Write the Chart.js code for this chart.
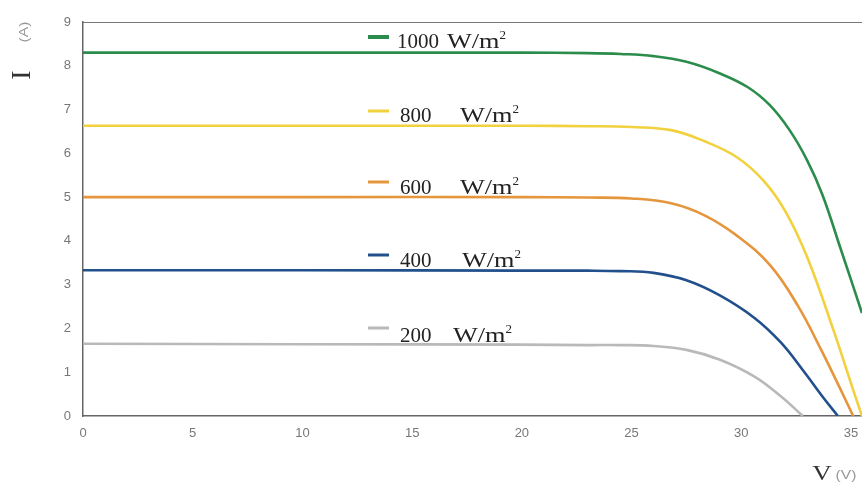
<!DOCTYPE html>
<html>
<head>
<meta charset="utf-8">
<script src="https://cdn.jsdelivr.net/npm/chart.js@4.4.0/dist/chart.umd.min.js"></script>
<style>
html,body{margin:0;padding:0;background:#fff;overflow:hidden;}
#wrap{width:862px;height:484px;position:relative;}
</style>
</head>
<body>
<div id="wrap"><canvas id="c" width="862" height="484"></canvas></div>
<script>
// ---- data ----
const seriesNames = ['1000', '800', '600', '400', '200'];
const v1000 = [0, 10, 20, 23, 24.5, 26.0, 27.5, 29.0, 30.3, 31.3, 32.2, 33.0, 33.7, 34.5, 35.5, 37.0];
const i1000 = [8.3, 8.3, 8.3, 8.29, 8.27, 8.22, 8.09, 7.83, 7.51, 7.1, 6.53, 5.84, 5.05, 3.86, 2.35, 0];
const v800 = [0, 10, 20, 23, 25.0, 26.8, 28.3, 29.8, 31.0, 32.0, 33.0, 34.2, 35.1, 35.5];
const i800 = [6.63, 6.63, 6.63, 6.62, 6.6, 6.53, 6.28, 5.91, 5.38, 4.68, 3.63, 1.96, 0.59, 0];
const v600 = [0, 10, 20, 23, 25.0, 26.8, 28.3, 29.8, 31.3, 32.6, 33.6, 34.5, 35.1];
const i600 = [5.0, 5.0, 5.0, 4.99, 4.97, 4.86, 4.59, 4.12, 3.45, 2.5, 1.55, 0.63, 0];
const v400 = [0, 10, 20, 23, 24.5, 26.0, 27.5, 29.0, 30.6, 31.8, 32.8, 33.75, 34.4];
const i400 = [3.33, 3.33, 3.32, 3.32, 3.31, 3.27, 3.1, 2.76, 2.24, 1.68, 1.05, 0.41, 0];
const v200 = [0, 10, 20, 23, 24.5, 26.0, 27.5, 29.0, 30.6, 31.8, 32.8];
const i200 = [1.65, 1.64, 1.63, 1.62, 1.62, 1.6, 1.51, 1.29, 0.9, 0.45, 0];
const xTicks = [0, 5, 10, 15, 20, 25, 30, 35];
const yTicks = [0, 1, 2, 3, 4, 5, 6, 7, 8, 9];

const colors = ['#2b8c4c', '#f2d13e', '#e5963c', '#21508c', '#b9b9b9'];
const vs = [v1000, v800, v600, v400, v200];
const is = [i1000, i800, i600, i400, i200];

const datasets = seriesNames.map((n, k) => ({
  label: n + ' W/m2',
  data: vs[k].map((v, j) => ({x: v, y: is[k][j]})),
  borderColor: colors[k],
  borderWidth: 2.6,
  pointRadius: 0,
  fill: false,
  tension: 0.4,
  xAxisID: 'x', yAxisID: 'y'
}));

// annotation layout (pixels)
const annLayout = [
  {dashY: 37, base: 48, numX: 397, wX: 447, dashW: 4},
  {dashY: 111, base: 122, numX: 400, wX: 460, dashW: 3},
  {dashY: 182, base: 194, numX: 400, wX: 460, dashW: 3},
  {dashY: 255, base: 267, numX: 400, wX: 462, dashW: 3},
  {dashY: 328, base: 342, numX: 400, wX: 453, dashW: 3}
];

function stretchText(ctx, txt, x, y, sx) {
  ctx.save();
  ctx.translate(x, y);
  ctx.scale(sx, 1);
  ctx.fillText(txt, 0, 0);
  ctx.restore();
  return ctx.measureText(txt).width * sx;
}

const annot = {
  id: 'annot',
  afterDraw(chart) {
    const ctx = chart.ctx;
    ctx.save();
    annLayout.forEach((a, k) => {
      ctx.strokeStyle = colors[k];
      ctx.lineWidth = a.dashW;
      ctx.beginPath();
      ctx.moveTo(368, a.dashY);
      ctx.lineTo(389, a.dashY);
      ctx.stroke();
      ctx.fillStyle = '#222';
      ctx.textBaseline = 'alphabetic';
      ctx.textAlign = 'left';
      ctx.font = '21px "Liberation Serif"';
      ctx.fillText(seriesNames[k], a.numX, a.base);
      const w = stretchText(ctx, 'W/m', a.wX, a.base, 1.25);
      ctx.font = '13px "Liberation Serif"';
      ctx.fillText('2', a.wX + w, a.base - 9);
    });
    // y axis title (rotated)
    ctx.save();
    ctx.translate(23, 75);
    ctx.rotate(-Math.PI / 2);
    ctx.fillStyle = '#333';
    ctx.textAlign = 'center';
    ctx.textBaseline = 'middle';
    ctx.font = '28px "Liberation Serif"';
    ctx.fillText('I', 0, 0);
    ctx.restore();
    ctx.save();
    ctx.translate(25, 32);
    ctx.rotate(-Math.PI / 2);
    ctx.scale(1.3, 1);
    ctx.fillStyle = '#999';
    ctx.textAlign = 'center';
    ctx.textBaseline = 'middle';
    ctx.font = '12px "Liberation Sans"';
    ctx.fillText('(A)', 0, 0);
    ctx.restore();
    // x axis title
    ctx.fillStyle = '#333';
    ctx.textAlign = 'center';
    ctx.textBaseline = 'alphabetic';
    ctx.font = '20px "Liberation Serif"';
    ctx.save(); ctx.translate(822, 480); ctx.scale(1.35, 1); ctx.fillText('V', 0, 0); ctx.restore();
    ctx.fillStyle = '#999';
    ctx.font = '12px "Liberation Sans"';
    ctx.save(); ctx.translate(846, 479); ctx.scale(1.3, 1); ctx.fillText('(V)', 0, 0); ctx.restore();
    ctx.restore();
  }
};

new Chart(document.getElementById('c'), {
  type: 'line',
  data: {datasets},
  plugins: [annot],
  options: {
    responsive: false,
    animation: false,
    layout: {padding: 0},
    plugins: {legend: {display: false}, tooltip: {enabled: false}},
    scales: {
      x: {
        type: 'linear', position: 'bottom', min: 0, max: 35.5,
        afterFit: s => { s.height = 68; s.paddingLeft = 0; s.paddingRight = 0; },
        afterBuildTicks: s => { s.ticks = xTicks.map(v => ({value: v})); },
        grid: {display: false, drawTicks: false},
        border: {display: true, color: '#666', width: 1.5},
        ticks: {color: '#777', font: {family: 'Liberation Sans', size: 13}, padding: 10, maxRotation: 0}
      },
      x2: {
        type: 'linear', position: 'top', min: 0, max: 35.5,
        afterFit: s => { s.height = 22; s.paddingLeft = 0; s.paddingRight = 0; },
        grid: {display: false, drawTicks: false},
        border: {display: true, color: '#777', width: 1},
        ticks: {display: false}
      },
      y: {
        type: 'linear', min: 0, max: 9,
        afterFit: s => { s.width = 83; s.paddingTop = 0; s.paddingBottom = 0; },
        afterBuildTicks: s => { s.ticks = yTicks.map(v => ({value: v})); },
        grid: {display: false, drawTicks: false},
        border: {display: true, color: '#666', width: 1.5},
        ticks: {color: '#777', font: {family: 'Liberation Sans', size: 13}, padding: 12}
      }
    }
  }
});
</script>
</body>
</html>
